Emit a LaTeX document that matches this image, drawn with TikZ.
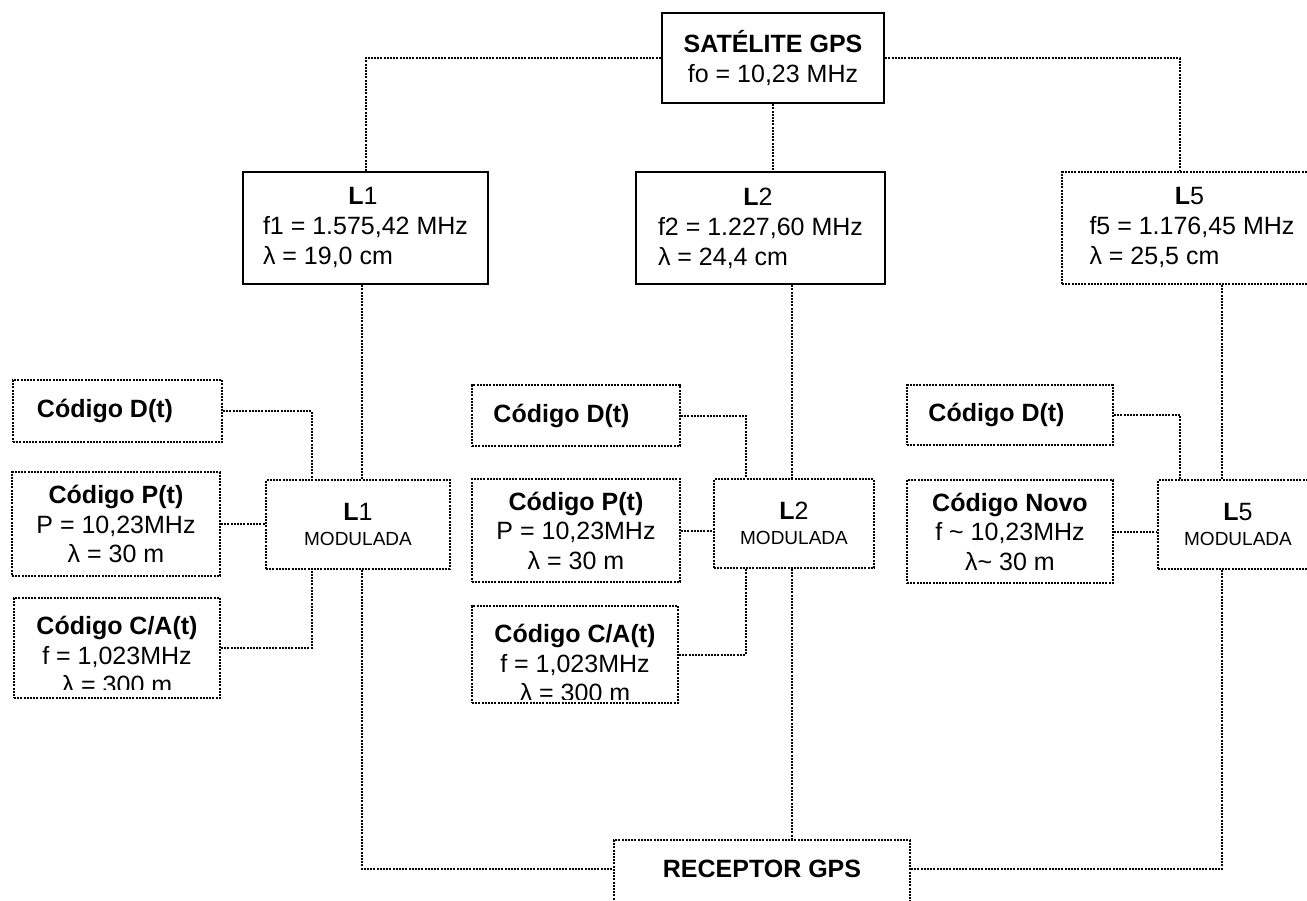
\documentclass[tikz,border=0pt]{standalone}
\usepackage{fontspec}
\setmainfont{Liberation Sans}
\usetikzlibrary{positioning,calc}
\tikzset{
  satbox/.style={
    rectangle, draw=black, line width=2.5pt, inner sep=0pt,
    align=center, font=\fontsize{25}{30}\selectfont
  },
  dotbox/.style={
    rectangle, draw=black, line width=2pt, dash pattern=on 2pt off 1.2pt,
    inner sep=0pt, align=center, font=\fontsize{25}{29.5}\selectfont
  },
  codetext/.style={inner sep=0pt, align=center, font=\fontsize{25}{29.5}\selectfont},
  dotline/.style={line width=2pt, dash pattern=on 2pt off 1.2pt}
}
\newcommand{\modtext}[1]{\textbf{L}#1\\[-5pt]{\fontsize{19}{22}\selectfont MODULADA}}

\begin{document}
\begin{tikzpicture}[x=1pt, y=-1pt]
\useasboundingbox (0,0) rectangle (1307,901);
\clip (0,0) rectangle (1307,901);
\fill[white] (0,0) rectangle (1307,901);

\coordinate (c1) at (362,0);
\coordinate (c2) at (792,0);
\coordinate (c5) at (1222,0);
\coordinate (j1) at (312,0);
\coordinate (j2) at (746,0);
\coordinate (j5) at (1180,0);

\node[satbox, minimum width=222pt, minimum height=90pt] (sat) at (773,58) {\textbf{SATÉLITE GPS}\\ fo = 10,23 MHz};

\node[satbox, minimum width=245pt, minimum height=112pt, align=left] (l1) at (365.5,228) {\makebox[200pt]{\textbf{L}1}\\ f1 = 1.575,42 MHz\\ λ = 19,0 cm};
\node[satbox, minimum width=249pt, minimum height=112pt, align=left] (l2) at (760.5,228) {\makebox[200pt]{\textbf{L}2}\\ f2 = 1.227,60 MHz\\ λ = 24,4 cm};
\node[dotbox, minimum width=260pt, minimum height=112pt, align=left, font=\fontsize{25}{30}\selectfont] (l5) at (1192,228) {\makebox[200pt]{\textbf{L}5}\\ f5 = 1.176,45 MHz\\ λ = 25,5 cm};

\node[dotbox, minimum width=209pt, minimum height=62pt] (d1) at (117.5,411) {\textbf{Código D(t)}\hspace*{25pt}};
\node[dotbox, minimum width=208pt, minimum height=104pt] (p1) at (116,524) {\textbf{Código P(t)}\\ P = 10,23MHz\\ λ = 30 m};
\node[dotbox, minimum width=206pt, minimum height=100pt] (ca1) at (117,648) {};
\begin{scope}
  \clip ([yshift=10pt]ca1.south west) rectangle (ca1.north east);
  \node[codetext] (ca1txt) at ([yshift=-7pt]ca1.center) {\textbf{Código C/A(t)}\\ f = 1,023MHz\\ λ = 300 m};
\end{scope}
\node[dotbox, minimum width=184pt, minimum height=89pt] (l1mod) at (358,524.5) {\modtext{1}};

\node[dotbox, minimum width=208pt, minimum height=61pt] (d2) at (576,415.5) {\textbf{Código D(t)}\hspace*{29pt}};
\node[dotbox, minimum width=208pt, minimum height=103pt] (p2) at (576,530.5) {\textbf{Código P(t)}\\ P = 10,23MHz\\ λ = 30 m};
\node[dotbox, minimum width=206pt, minimum height=97pt] (ca2) at (575,654.5) {};
\begin{scope}
  \clip ([yshift=5pt]ca2.south west) rectangle (ca2.north east);
  \node[codetext] (ca2txt) at ([yshift=-8.5pt]ca2.center) {\textbf{Código C/A(t)}\\ f = 1,023MHz\\ λ = 300 m};
\end{scope}
\node[dotbox, minimum width=160pt, minimum height=89pt] (l2mod) at (794,523.5) {\modtext{2}};

\node[dotbox, minimum width=206pt, minimum height=60pt] (d5) at (1010,415) {\textbf{Código D(t)}\hspace*{27pt}};
\node[dotbox, minimum width=206pt, minimum height=103pt] (nv5) at (1010,531.5) {\textbf{Código Novo}\\ f \textasciitilde{} 10,23MHz\\ λ\textasciitilde{} 30 m};
\node[dotbox, minimum width=160pt, minimum height=89pt] (l5mod) at (1238,524.5) {\modtext{5}};

\node[dotbox, minimum width=296pt, minimum height=80pt] (rec) at (762,880) {};
\node[codetext] (rectxt) at (762,869) {\textbf{RECEPTOR GPS}};

\draw[dotline] (sat.west) -| (l1.north);
\draw[dotline] (sat.south) -- (sat.south |- l2.north);
\draw[dotline] (sat.east) -| (l5.north -| j5);

\draw[dotline] (l1.south -| c1) -- (l1mod.north -| c1);
\draw[dotline] (d1.east) -| (l1mod.north -| j1);
\draw[dotline] (p1.east) -- (p1.east -| l1mod.west);
\draw[dotline] (ca1.east) -| (l1mod.south -| j1);

\draw[dotline] (l2.south -| c2) -- (l2mod.north -| c2);
\draw[dotline] (d2.east) -| (l2mod.north -| j2);
\draw[dotline] (p2.east) -- (p2.east -| l2mod.west);
\draw[dotline] (ca2.east) -| (l2mod.south -| j2);

\draw[dotline] (l5.south -| c5) -- (l5mod.north -| c5);
\draw[dotline] (d5.east) -| (l5mod.north -| j5);
\draw[dotline] (nv5.east) -- (nv5.east -| l5mod.west);

\draw[dotline] (l1mod.south -| c1) |- (rectxt -| rec.west);
\draw[dotline] (l2mod.south -| c2) -- (rec.north -| c2);
\draw[dotline] (l5mod.south -| c5) |- (rectxt -| rec.east);
\end{tikzpicture}
\end{document}
